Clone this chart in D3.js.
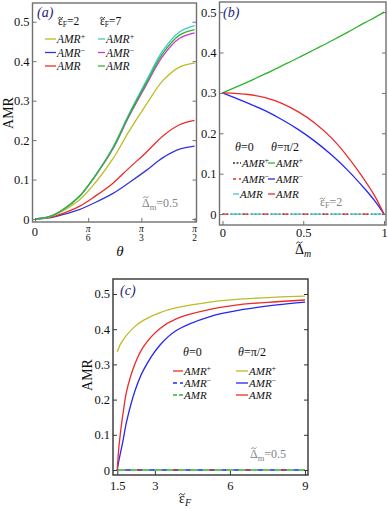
<!DOCTYPE html>
<meta charset="utf-8">
<style type="text/css">
  body { margin: 0; background: white; }
  svg text { font-family: 'Liberation Serif', 'Times New Roman', serif; }
</style>
<div id="chart"></div>
<script src="https://d3js.org/d3.v7.min.js"></script>
<script>

// ---- panel (a): AMR vs theta (degrees), Delta_m = 0.5
var thetaDeg   = [0, 8, 15.5, 25, 34, 44, 53, 63, 72, 81.5, 90];
var aPlusE2    = [0, 0.005, 0.02, 0.048, 0.092, 0.153, 0.222, 0.292, 0.35, 0.385, 0.395];
var aMinusE2   = [0, 0.003, 0.011, 0.024, 0.042, 0.065, 0.092, 0.124, 0.155, 0.177, 0.185];
var aAmrE2     = [0, 0.004, 0.014, 0.032, 0.058, 0.091, 0.129, 0.17, 0.21, 0.239, 0.25];
var aPlusE7    = [0, 0.006, 0.023, 0.057, 0.11, 0.182, 0.266, 0.352, 0.426, 0.474, 0.49];
var aMinusE7   = [0, 0.006, 0.023, 0.057, 0.109, 0.178, 0.26, 0.342, 0.412, 0.458, 0.472];
var aAmrE7     = [0, 0.006, 0.023, 0.057, 0.11, 0.18, 0.263, 0.347, 0.419, 0.466, 0.48];

// ---- panel (b): AMR vs Delta_m, eps_F = 2
var deltaM     = [0, 0.161, 0.264, 0.367, 0.47, 0.573, 0.676, 0.779, 0.882, 0.944, 1];
var bPlusPi2   = [0.3, 0.328, 0.347, 0.367, 0.387, 0.408, 0.429, 0.451, 0.474, 0.487, 0.5];
var bMinusPi2  = [0.3, 0.274, 0.256, 0.234, 0.209, 0.18, 0.146, 0.107, 0.062, 0.032, 0];
var bAmrPi2    = [0.3, 0.296, 0.288, 0.274, 0.253, 0.225, 0.188, 0.14, 0.083, 0.044, 0];
var bZero      = [0, 0, 0, 0, 0, 0, 0, 0, 0, 0, 0];

// ---- panel (c): AMR vs eps_F, Delta_m = 0.5
var epsF       = [1.5, 1.55, 1.607, 1.673, 1.74, 1.873, 2.207, 2.54, 3.207, 3.873, 5.207, 6.54, 7.873, 9];
var cPlusPi2   = [0.336, 0.345, 0.355, 0.363, 0.37, 0.383, 0.408, 0.425, 0.447, 0.461, 0.477, 0.486, 0.491, 0.494];
var cMinusPi2  = [0, 0.022, 0.042, 0.064, 0.088, 0.138, 0.225, 0.283, 0.355, 0.397, 0.436, 0.456, 0.469, 0.477];
var cAmrPi2    = [0, 0.055, 0.094, 0.133, 0.166, 0.224, 0.302, 0.35, 0.402, 0.43, 0.456, 0.471, 0.478, 0.483];
var cZero      = [0, 0, 0, 0, 0, 0, 0, 0, 0, 0, 0, 0, 0, 0];

var yTickVals  = [0, 0.1, 0.2, 0.3, 0.4, 0.5];
var aXTicks    = [0, 30, 60, 90];
var aXDenoms   = ["", "6", "3", "2"];
var bXTicks    = [0, 0.5, 1];
var cXTicks    = [1.5, 3, 6, 9];

var OLIVE = "#bcbc28", CYAN = "#3ec9c9", MAGENTA = "#cc35cc", GREEN = "#2db52d",
    RED = "#ec2a2a", BLUE = "#3437d2", BLUE2 = "#2626f5", NAVY = "#1c1c78", GRAY = "#858585";
var SERIF = "'Liberation Serif', 'Times New Roman', serif";

var svg = d3.select("#chart").append("svg")
  .attr("width", 388).attr("height", 509)
  .attr("font-family", SERIF);

var yFmt = function(v) { return v === 0 ? "0" : v.toFixed(1); };

function makePanel(box, xDom, yDom, frameColor) {
  var x = d3.scaleLinear().domain(xDom).range([box.left, box.right]);
  var y = d3.scaleLinear().domain(yDom).range([box.bottom, box.top]);
  var g = svg.append("g");
  return { x: x, y: y, g: g, box: box, color: frameColor };
}

function drawAxes(p, xTicks, xFmt, xPad) {
  var b = p.box;
  var left = p.g.append("g").attr("transform", "translate(" + b.left + ",0)")
    .call(d3.axisLeft(p.y).tickValues(yTickVals).tickFormat(yFmt).tickSize(-4).tickSizeOuter(0).tickPadding(3));
  var right = p.g.append("g").attr("transform", "translate(" + b.right + ",0)")
    .call(d3.axisRight(p.y).tickValues(yTickVals).tickFormat("").tickSize(-4).tickSizeOuter(0));
  var bottom = p.g.append("g").attr("transform", "translate(0," + b.bottom + ")")
    .call(d3.axisBottom(p.x).tickValues(xTicks).tickFormat(xFmt).tickSize(-4).tickSizeOuter(0).tickPadding(xPad));
  [left, right, bottom].forEach(function(ax) {
    ax.attr("font-family", SERIF);
    ax.select(".domain").remove();
    ax.selectAll("line").attr("stroke", p.color).attr("stroke-width", 1);
    ax.selectAll("text").attr("fill", "#111").style("font-size", "12.5px")
      .style("font-family", SERIF);
  });
  p.g.append("rect")
    .attr("x", b.left).attr("y", b.top)
    .attr("width", b.right - b.left).attr("height", b.bottom - b.top)
    .attr("fill", "none").attr("stroke", p.color).attr("stroke-width", 1.4);
}

function drawLine(p, xs, ys, color, dash, offset, width) {
  var line = d3.line()
    .x(function(d, i) { return p.x(xs[i]); })
    .y(function(d) { return p.y(d); })
    .curve(d3.curveCatmullRom.alpha(0.5));
  p.g.append("path").datum(ys)
    .attr("d", line)
    .attr("fill", "none")
    .attr("stroke", color)
    .attr("stroke-width", width || 1.3)
    .attr("stroke-dasharray", dash || null)
    .attr("stroke-dashoffset", offset || 0);
}

// parts: {t, it, dy, size, tilde (height above baseline in em)}
function label(g, x, y, size, parts, opts) {
  opts = opts || {};
  var t = g.append("text").attr("x", x).attr("y", y)
    .style("font-size", size + "px")
    .style("font-family", SERIF)
    .attr("fill", opts.fill || "#111")
    .attr("text-anchor", opts.anchor || "start");
  var tildes = [], n = 0;
  parts.forEach(function(pt) {
    var s = t.append("tspan").text(pt.t);
    if (pt.it) s.style("font-style", "italic");
    if (pt.dy) s.attr("dy", pt.dy);
    if (pt.size) s.style("font-size", pt.size + "px");
    if (pt.tilde) tildes.push([n, pt.tilde]);
    n += pt.t.length;
  });
  if (opts.rotate) t.attr("transform", "rotate(-90," + x + "," + y + ")");
  // tilde accent drawn as a small wave above the character
  tildes.forEach(function(td) {
    var e = t.node().getExtentOfChar(td[0]);
    var cx = e.x + e.width / 2, ty = y - td[1] * size;
    var w = size * 0.42, a = size * 0.07;
    var p = d3.path();
    p.moveTo(cx - w / 2, ty + a);
    p.bezierCurveTo(cx - w / 4, ty - a * 1.6, cx - w / 8, ty - a * 0.4, cx, ty);
    p.bezierCurveTo(cx + w / 8, ty + a * 0.4, cx + w / 4, ty + a * 1.6, cx + w / 2, ty - a);
    g.append("path").attr("d", p.toString())
      .attr("fill", "none").attr("stroke", opts.fill || "#111").attr("stroke-width", 0.9);
  });
  return t;
}

function amr(sign) {
  var p = [{ t: "AMR", it: true }];
  if (sign) p.push({ t: sign, size: 8, dy: -4 });
  return p;
}

function legendRow(g, x1, x2, y, color, dash, sign, size) {
  g.append("line").attr("x1", x1).attr("x2", x2).attr("y1", y).attr("y2", y)
    .attr("stroke", color).attr("stroke-width", 1.3).attr("stroke-dasharray", dash || null);
  label(g, x2 + 1, y + 4, size, amr(sign));
}

// ================= panel (a)
var pa = makePanel({ left: 32.5, right: 196.5, top: 3, bottom: 222 }, [-1.4, 91.1], [-0.0075, 0.5475], "#707070");
drawLine(pa, thetaDeg, aMinusE2, BLUE);
drawLine(pa, thetaDeg, aAmrE2, RED);
drawLine(pa, thetaDeg, aPlusE2, OLIVE);
drawLine(pa, thetaDeg, aMinusE7, MAGENTA);
drawLine(pa, thetaDeg, aPlusE7, CYAN);
drawLine(pa, thetaDeg, aAmrE7, GREEN);
drawAxes(pa, aXTicks, function() { return ""; }, 3);
aXTicks.forEach(function(v, i) {
  var cx = pa.x(v);
  if (i === 0) {
    label(pa.g, cx, 236, 12.5, [{ t: "0" }], { anchor: "middle" });
  } else {
    label(pa.g, cx, 232, 9.5, [{ t: "\u03C0", it: true }], { anchor: "middle" });
    label(pa.g, cx, 241, 9.5, [{ t: aXDenoms[i] }], { anchor: "middle" });
  }
});
label(pa.g, 13, 113, 14, [{ t: "AMR" }], { rotate: true, anchor: "middle" });
label(pa.g, 120, 256, 15, [{ t: "\u03B8", it: true }], { anchor: "middle" });
label(pa.g, 37, 17, 14, [{ t: "(a)", it: true }], { fill: NAVY });
label(pa.g, 58, 25, 11.5, [{ t: "\u03B5", tilde: 0.62 }, { t: "F", size: 7.5, dy: 2 }, { t: "=2", dy: -2 }]);
label(pa.g, 100, 25, 11.5, [{ t: "\u03B5", tilde: 0.62 }, { t: "F", size: 7.5, dy: 2 }, { t: "=7", dy: -2 }]);
legendRow(pa.g, 45, 56, 39, OLIVE, null, "+", 11.5);
legendRow(pa.g, 45, 56, 52.5, BLUE, null, "\u2212", 11.5);
legendRow(pa.g, 45, 56, 66, RED, null, null, 11.5);
legendRow(pa.g, 98, 105, 39, CYAN, null, "+", 11.5);
legendRow(pa.g, 98, 105, 52.5, MAGENTA, null, "\u2212", 11.5);
legendRow(pa.g, 98, 105, 66, GREEN, null, null, 11.5);
label(pa.g, 142, 207, 12, [{ t: "\u0394", tilde: 0.82 }, { t: "m", size: 8.5, dy: 3 }, { t: "=0.5", dy: -3 }], { fill: GRAY });

// ================= panel (b)
var pb = makePanel({ left: 219.5, right: 386, top: 2, bottom: 225 }, [-0.0185, 1.0123], [-0.027, 0.525], "#707070");
drawLine(pb, deltaM, bZero, "#333", "2,2", 0, 1.3);
drawLine(pb, deltaM, bZero, RED, "5,15", 0, 1.4);
drawLine(pb, deltaM, bZero, CYAN, "11,9", -8, 1.4);
drawLine(pb, deltaM, bPlusPi2, GREEN);
drawLine(pb, deltaM, bMinusPi2, BLUE2);
drawLine(pb, deltaM, bAmrPi2, RED);
drawAxes(pb, bXTicks, function(v) { return v; }, 3.5);
label(pb.g, 303, 254, 14, [{ t: "\u0394", tilde: 0.82 }, { t: "m", it: true, size: 10, dy: 3 }], { anchor: "middle" });
label(pb.g, 223, 17, 14, [{ t: "(b)", it: true }], { fill: NAVY });
label(pb.g, 235, 151, 12, [{ t: "\u03B8", it: true }, { t: "=0" }]);
label(pb.g, 271, 151, 12, [{ t: "\u03B8", it: true }, { t: "=\u03C0/2" }]);
legendRow(pb.g, 233, 241, 163, "#333", "2,1.5", "+", 11);
legendRow(pb.g, 233, 241, 179, RED, "3,3", "\u2212", 11);
legendRow(pb.g, 233, 239, 194, CYAN, null, null, 11);
legendRow(pb.g, 268, 275, 163, GREEN, null, "+", 11);
legendRow(pb.g, 268, 275, 179, BLUE2, null, "\u2212", 11);
legendRow(pb.g, 268, 275, 194, RED, null, null, 11);
label(pb.g, 320, 206, 12, [{ t: "\u03B5", tilde: 0.62 }, { t: "F", size: 8, dy: 2 }, { t: "=2", dy: -2 }], { fill: GRAY });

// ================= panel (c)
var pc = makePanel({ left: 113, right: 308, top: 279, bottom: 475 }, [1.328, 9.12], [-0.0142, 0.5426], "#333");
drawLine(pc, epsF, cZero, GREEN, "8,4", 0, 1.4);
drawLine(pc, epsF, cZero, BLUE2, "5,7", -8, 1.4);
drawLine(pc, epsF, cZero, RED, "4,32", -20, 1.4);
drawLine(pc, epsF, cPlusPi2, OLIVE);
drawLine(pc, epsF, cMinusPi2, BLUE2);
drawLine(pc, epsF, cAmrPi2, RED);
drawAxes(pc, cXTicks, function(v) { return v; }, 6.5);
label(pc.g, 92, 375, 14, [{ t: "AMR" }], { rotate: true, anchor: "middle" });
label(pc.g, 185, 503, 14, [{ t: "\u03B5", tilde: 0.62 }, { t: "F", it: true, size: 10, dy: 3 }], { anchor: "middle" });
label(pc.g, 120, 295, 14, [{ t: "(c)", it: true }], { fill: NAVY });
label(pc.g, 183, 356, 12, [{ t: "\u03B8", it: true }, { t: "=0" }]);
label(pc.g, 238, 356, 12, [{ t: "\u03B8", it: true }, { t: "=\u03C0/2" }]);
legendRow(pc.g, 173, 183, 371, RED, null, "+", 11);
legendRow(pc.g, 173, 183, 383, BLUE2, "4,3", "\u2212", 11);
legendRow(pc.g, 173, 183, 395, GREEN, "4,2", null, 11);
legendRow(pc.g, 236, 248, 371, OLIVE, null, "+", 11);
legendRow(pc.g, 236, 248, 383, BLUE2, null, "\u2212", 11);
legendRow(pc.g, 236, 248, 395, RED, null, null, 11);
label(pc.g, 250, 458, 12, [{ t: "\u0394", tilde: 0.82 }, { t: "m", size: 8.5, dy: 3 }, { t: "=0.5", dy: -3 }], { fill: GRAY });

</script>
